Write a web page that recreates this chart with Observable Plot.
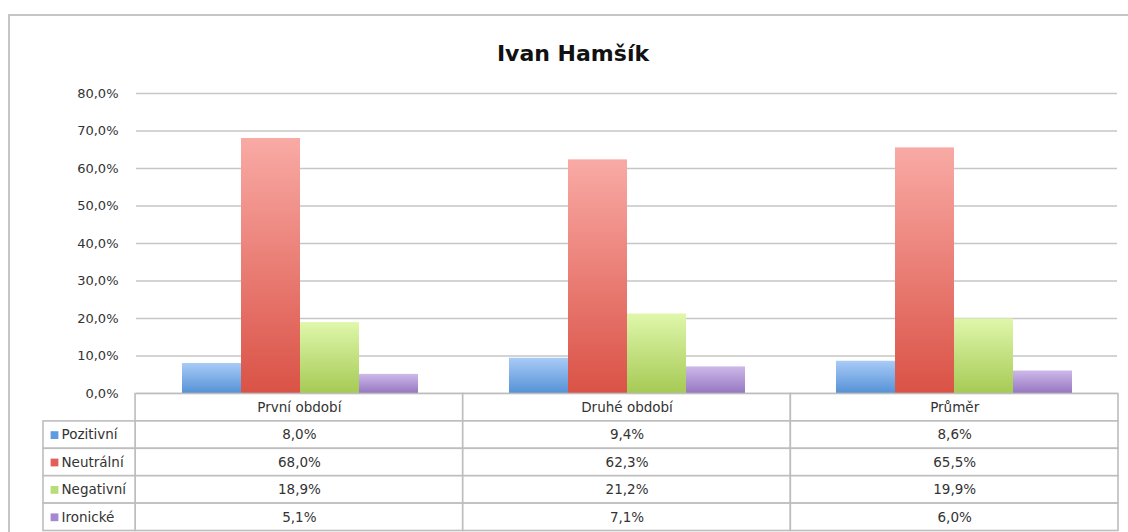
<!DOCTYPE html>
<html><head><meta charset="utf-8">
<script src="https://cdn.jsdelivr.net/npm/d3@7"></script>
<script src="https://cdn.jsdelivr.net/npm/@observablehq/plot@0.6"></script>
<style>
html,body{margin:0;padding:0;background:#fff;}
#wrap{position:relative;width:1128px;height:532px;overflow:hidden;font-family:"DejaVu Sans",sans-serif;}
#border{position:absolute;left:8px;top:14px;width:1200px;height:600px;border-top:2px solid #c6c6c6;border-left:2px solid #c6c6c6;}
#title{position:absolute;left:9px;width:1128px;top:41px;line-height:26px;text-align:center;font:bold 22px "DejaVu Sans",sans-serif;color:#111;}
.layer{position:absolute;left:0;top:0;}
</style></head>
<body><div id="wrap"><div id="border"></div><div id="title"></div></div>
<script>
const title = "Ivan Hamšík";
const categories = ["První období", "Druhé období", "Průměr"];
const series = ["Pozitivní", "Neutrální", "Negativní", "Ironické"];
const pozitivni = [8.0, 9.4, 8.6];
const neutralni = [68.0, 62.3, 65.5];
const negativni = [18.9, 21.2, 19.9];
const ironicke = [5.1, 7.1, 6.0];
const yTicks = [0, 10, 20, 30, 40, 50, 60, 70, 80];
const colorTop = ["#a9cbf7", "#f9aaa5", "#dff7ab", "#cdb9ea"];
const colorBottom = ["#5592d6", "#da5246", "#a6ca55", "#9677c1"];
const swatch = ["#5f9be0", "#e2605a", "#b9dc78", "#a589cf"];

const values = [pozitivni, neutralni, negativni, ironicke];
const fmt = v => v.toFixed(1).replace(".", ",") + "%";

document.getElementById("title").textContent = title;
const wrap = document.getElementById("wrap");

// gradient definitions
const defs = d3.select(wrap).append("svg").attr("width", 0).attr("height", 0)
  .style("position", "absolute").append("defs");
series.forEach((s, k) => {
  const g = defs.append("linearGradient").attr("id", "grad" + k)
    .attr("x1", 0).attr("y1", 0).attr("x2", 0).attr("y2", 1);
  g.append("stop").attr("offset", "0%").attr("stop-color", colorTop[k]);
  g.append("stop").attr("offset", "100%").attr("stop-color", colorBottom[k]);
});

const bars = categories.flatMap((c, i) => series.map((s, k) => ({category: c, series: s, value: values[k][i]})));

const chart = Plot.plot({
  width: 1128, height: 532,
  marginTop: 93, marginBottom: 139, marginLeft: 135, marginRight: 10,
  style: {background: "transparent", fontFamily: "DejaVu Sans, sans-serif", fontSize: "13px"},
  fx: {domain: categories, padding: 0, axis: null},
  x: {domain: series, paddingInner: 0, paddingOuter: 0.75, axis: null},
  y: {domain: [0, 80]},
  color: {domain: series, range: series.map((s, k) => `url(#grad${k})`)},
  marks: [
    Plot.ruleY(yTicks, {stroke: "#c6c6c6", strokeWidth: 1.6}),
    Plot.axisY(yTicks, {tickFormat: fmt, tickSize: 0, tickPadding: 18, line: true,
      stroke: "#c6c6c6", strokeWidth: 1.6, fill: "#333", label: null}),
    Plot.barY(bars, {fx: "category", x: "series", y: "value", fill: "series"})
  ]
});
chart.classList.add("layer");
wrap.appendChild(chart);

// data table below the chart
const legendW = 0.281;
const cells = [];
categories.forEach((c, i) => {
  cells.push({x1: i, x2: i + 1, y1: 0, y2: 1});
  series.forEach((s, k) => cells.push({x1: i, x2: i + 1, y1: k + 1, y2: k + 2}));
});
series.forEach((s, k) => cells.push({x1: -legendW, x2: 0, y1: k + 1, y2: k + 2}));
const tableValues = categories.flatMap((c, i) => series.map((s, k) => ({col: i, row: k + 1, text: fmt(values[k][i])})));

const table = Plot.plot({
  width: 1128, height: 532,
  marginTop: 393.5, marginBottom: 1.5, marginLeft: 43, marginRight: 10,
  style: {background: "transparent", fontFamily: "DejaVu Sans, sans-serif", fontSize: "13.5px", color: "#333"},
  x: {domain: [-legendW, categories.length], axis: null},
  y: {domain: [0, series.length + 1], reverse: true, axis: null},
  color: {type: "identity"},
  marks: [
    Plot.rect(cells, {x1: "x1", x2: "x2", y1: "y1", y2: "y2", fill: "white", stroke: "#bdbdbd", strokeWidth: 1.6}),
    Plot.text(categories, {x: (d, i) => i + 0.5, y: () => 0.5, text: d => d, fill: "#333"}),
    Plot.text(tableValues, {x: d => d.col + 0.5, y: d => d.row + 0.5, text: "text", fill: "#333"}),
    Plot.dot(series, {x: () => -legendW, y: (d, k) => k + 1.5, dx: 11, symbol: "square", r: 4.4, fill: (d, k) => swatch[k], stroke: null}),
    Plot.text(series, {x: () => -legendW, y: (d, k) => k + 1.5, dx: 18, text: d => d, textAnchor: "start", fill: "#333"})
  ]
});
table.classList.add("layer");
wrap.appendChild(table);
</script>
</body></html>
